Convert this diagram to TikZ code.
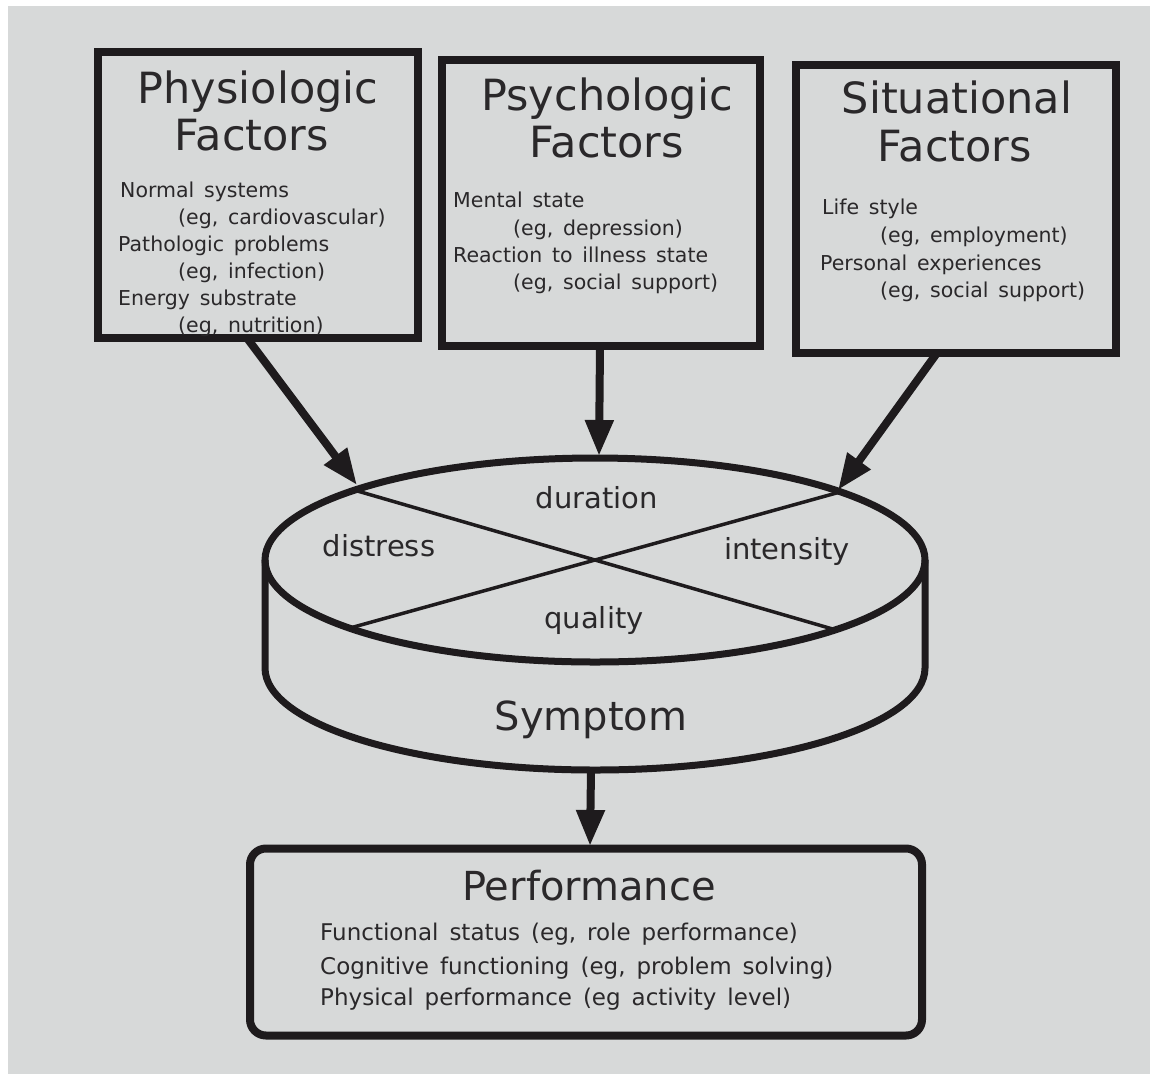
\documentclass[tikz,border=0pt]{standalone}
\usepackage{fontspec}
\setmainfont{DejaVu Sans}[WordSpace=1.5]
\usetikzlibrary{arrows.meta}
\definecolor{bgpaper}{RGB}{215,217,217}
\definecolor{ink}{RGB}{30,27,29}
\definecolor{txt}{RGB}{42,40,42}
\begin{document}
\begin{tikzpicture}[x=1pt,y=-1pt,
  factorbox/.style={draw=ink, line width=8pt, rectangle, inner sep=0pt},
  title/.style={anchor=base, text=txt, inner sep=0pt, font=\fontsize{43}{46}\selectfont},
  body/.style={anchor=base west, text=txt, inner sep=0pt, font=\fontsize{20.5}{24}\selectfont},
  pbody/.style={anchor=base west, text=txt, inner sep=0pt, font=\fontsize{23}{26}\selectfont},
  facet/.style={anchor=base, text=txt, inner sep=0pt, font=\fontsize{29}{32}\selectfont},
  big/.style={anchor=base, text=txt, inner sep=0pt, font=\fontsize{40}{44}\selectfont},
  flow/.style={draw=ink, line width=8pt, -{Triangle[length=36pt,width=27pt]}},
  rim/.style={draw=ink, line width=7pt},
  cross/.style={draw=ink, line width=3.5pt}]
\useasboundingbox (0,0) rectangle (1150,1074);
\fill[white] (0,0) rectangle (1150,1074);
\fill[bgpaper] (8,6) rectangle (1150,1074);

% factor boxes
\node[factorbox, minimum width=320pt, minimum height=286pt] (phys) at (258,195) {};
\node[factorbox, minimum width=318pt, minimum height=286pt] (psych) at (601,203) {};
\node[factorbox, minimum width=320pt, minimum height=288pt] (sit) at (956,209) {};

% physiologic texts
\node[title] (physT1) at (258,103) {Physiologic};
\node[title] (physT2) at (252,150) {Factors};
\node[body] (ph1) at (120,197) {Normal systems};
\node[body] (ph2) at (178,224) {(eg, cardiovascular)};
\node[body] (ph3) at (118,251) {Pathologic problems};
\node[body] (ph4) at (178,278) {(eg, infection)};
\node[body] (ph5) at (118,305) {Energy substrate};
\node[body] (ph6) at (178,332) {(eg, nutrition)};

% psychologic texts
\node[title] (psyT1) at (607,110) {Psychologic};
\node[title] (psyT2) at (607,157) {Factors};
\node[body] (ps1) at (453,207) {Mental state};
\node[body] (ps2) at (513,235) {(eg, depression)};
\node[body] (ps3) at (453,262) {Reaction to illness state};
\node[body] (ps4) at (513,289) {(eg, social support)};

% situational texts
\node[title] (sitT1) at (957,113) {Situational};
\node[title] (sitT2) at (955,161) {Factors};
\node[body] (si1) at (822,214) {Life style};
\node[body] (si2) at (880,242) {(eg, employment)};
\node[body] (si3) at (820,270) {Personal experiences};
\node[body] (si4) at (880,297) {(eg, social support)};

% symptom cylinder
\coordinate (ctop) at (595,560);
\coordinate (cl) at (265,560);
\coordinate (cr) at (925,560);
\coordinate (cbl) at (265,668);
\coordinate (xa1) at (354,490);
\coordinate (xa2) at (836,630);
\coordinate (xb1) at (840,492);
\coordinate (xb2) at (350,628);
\draw[cross] (xa1) -- (xa2);
\draw[cross] (xb1) -- (xb2);
\draw[rim] (ctop) ellipse [x radius=330, y radius=102];
\draw[rim] (cl) -- (cbl) arc[start angle=180, end angle=0, x radius=330, y radius=102] -- (cr);
\node[facet] (dur) at (597,508) {duration};
\node[facet] (dis) at (379,556) {distress};
\node[facet] (inten) at (787,559) {intensity};
\node[facet] (qual) at (594,628) {quality};
\node[big] (symp) at (591,730) {Symptom};

% performance box
\node[draw=ink, line width=8pt, rounded corners=16pt, minimum width=672pt, minimum height=187pt, inner sep=0pt] (perf) at (586,942) {};
\node[big] (perfT) at (589,900) {Performance};
\node[pbody] (pe1) at (320,940) {Functional status (eg, role performance)};
\node[pbody] (pe2) at (320,974) {Cognitive functioning (eg, problem solving)};
\node[pbody] (pe3) at (320,1005) {Physical performance (eg activity level)};

% arrows
\coordinate (s1) at (247,338);
\coordinate (t1) at (357,485);
\coordinate (s2) at (600,346);
\coordinate (t2) at (599,456);
\coordinate (s3) at (937,353);
\coordinate (t3) at (838,490);
\coordinate (s4) at (591,770);
\coordinate (t4) at (590,846);
\draw[flow] (s1) -- (t1);
\draw[flow] (s2) -- (t2);
\draw[flow] (s3) -- (t3);
\draw[flow] (s4) -- (t4);
\end{tikzpicture}
\end{document}
